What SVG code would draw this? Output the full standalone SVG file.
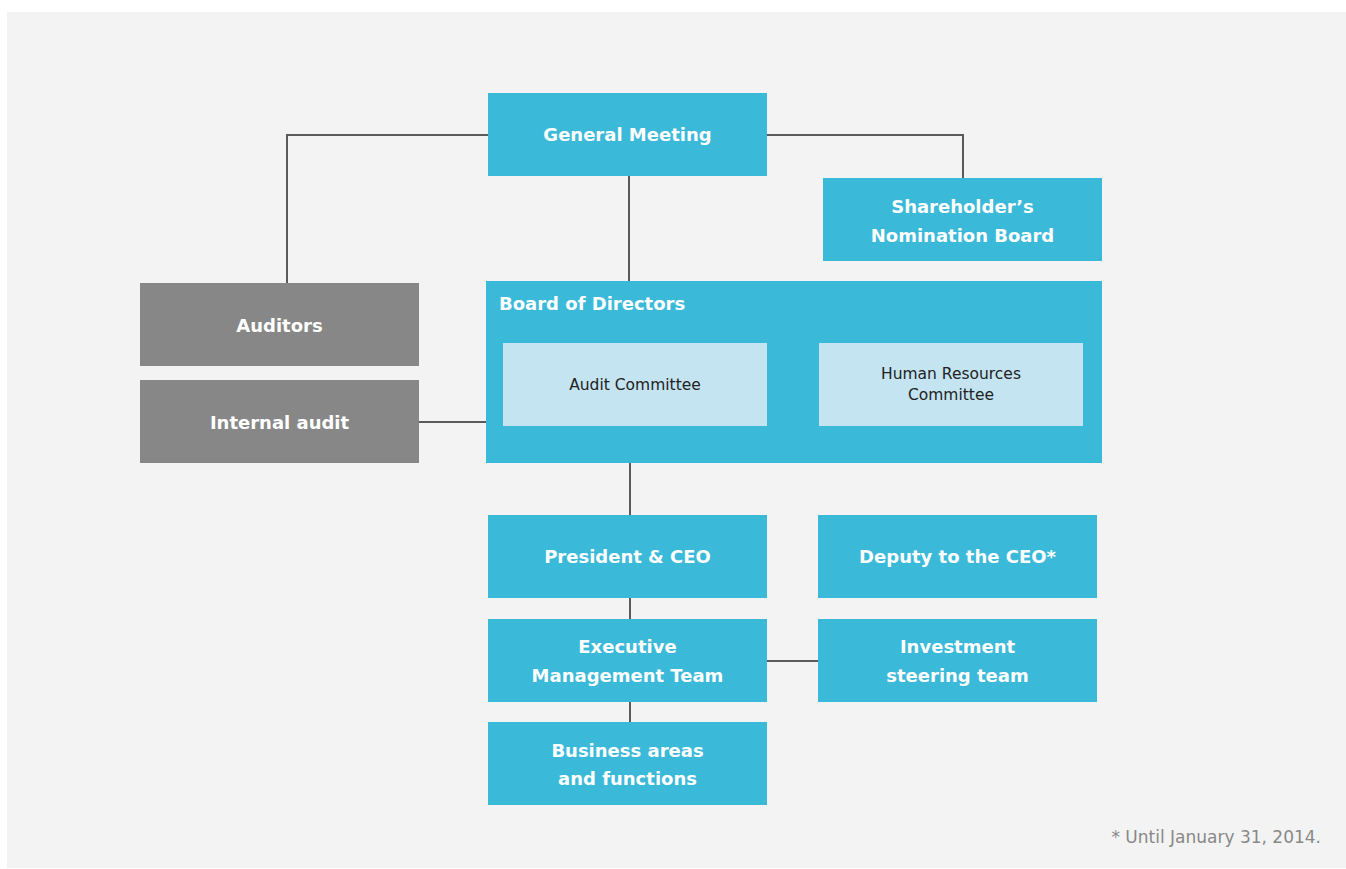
<svg xmlns="http://www.w3.org/2000/svg" width="1346" height="869" viewBox="0 0 1346 869">
<style>
.blue{fill:#3bb9d9}
.grey{fill:#878787}
.light{fill:#c4e4f2}
.t{font-family:"DejaVu Sans",sans-serif;font-weight:bold;font-size:18px;fill:#ffffff;text-anchor:middle}
.s{font-family:"DejaVu Sans",sans-serif;font-size:15.5px;fill:#222222;text-anchor:middle}
.c{fill:none;stroke:#5a5a5a;stroke-width:2}
</style>
<rect x="0" y="0" width="1346" height="869" fill="#ffffff"/>
<rect x="7" y="12" width="1339" height="856" fill="#f3f3f3"/>
<g id="connectors">
<polyline class="c" points="488,135 287,135 287,283"/>
<polyline class="c" points="767,135 963,135 963,178"/>
<line class="c" x1="629" y1="176" x2="629" y2="281"/>
<line class="c" x1="419" y1="422" x2="486" y2="422"/>
<line class="c" x1="630" y1="463" x2="630" y2="515"/>
<line class="c" x1="630" y1="598" x2="630" y2="619"/>
<line class="c" x1="630" y1="702" x2="630" y2="722"/>
<line class="c" x1="767" y1="661" x2="818" y2="661"/>
</g>
<g id="general-meeting">
<rect class="blue" x="488" y="93" width="279" height="83"/>
<text class="t" x="627.5" y="141">General Meeting</text>
</g>
<g id="nomination-board">
<rect class="blue" x="823" y="178" width="279" height="83"/>
<text class="t" x="962.5" y="213">Shareholder’s</text>
<text class="t" x="962.5" y="242">Nomination Board</text>
</g>
<g id="auditors">
<rect class="grey" x="140" y="283" width="279" height="83"/>
<text class="t" x="279.5" y="332">Auditors</text>
</g>
<g id="internal-audit">
<rect class="grey" x="140" y="380" width="279" height="83"/>
<text class="t" x="279.5" y="429">Internal audit</text>
</g>
<g id="board-of-directors">
<rect class="blue" x="486" y="281" width="616" height="182"/>
<text class="t" x="499" y="310" style="text-anchor:start">Board of Directors</text>
</g>
<g id="audit-committee">
<rect class="light" x="503" y="343" width="264" height="83"/>
<text class="s" x="635" y="390">Audit Committee</text>
</g>
<g id="hr-committee">
<rect class="light" x="819" y="343" width="264" height="83"/>
<text class="s" x="951" y="379">Human Resources</text>
<text class="s" x="951" y="400">Committee</text>
</g>
<g id="president-ceo">
<rect class="blue" x="488" y="515" width="279" height="83"/>
<text class="t" x="627.5" y="563">President &amp; CEO</text>
</g>
<g id="deputy-ceo">
<rect class="blue" x="818" y="515" width="279" height="83"/>
<text class="t" x="957.5" y="563">Deputy to the CEO*</text>
</g>
<g id="executive-management-team">
<rect class="blue" x="488" y="619" width="279" height="83"/>
<text class="t" x="627.5" y="653">Executive</text>
<text class="t" x="627.5" y="682">Management Team</text>
</g>
<g id="investment-steering-team">
<rect class="blue" x="818" y="619" width="279" height="83"/>
<text class="t" x="957.5" y="653">Investment</text>
<text class="t" x="957.5" y="682">steering team</text>
</g>
<g id="business-areas">
<rect class="blue" x="488" y="722" width="279" height="83"/>
<text class="t" x="627.5" y="757">Business areas</text>
<text class="t" x="627.5" y="785">and functions</text>
</g>
<text x="1321" y="843" style="font-family:'DejaVu Sans',sans-serif;font-size:17px;fill:#888888;text-anchor:end">* Until January 31, 2014.</text>
</svg>
